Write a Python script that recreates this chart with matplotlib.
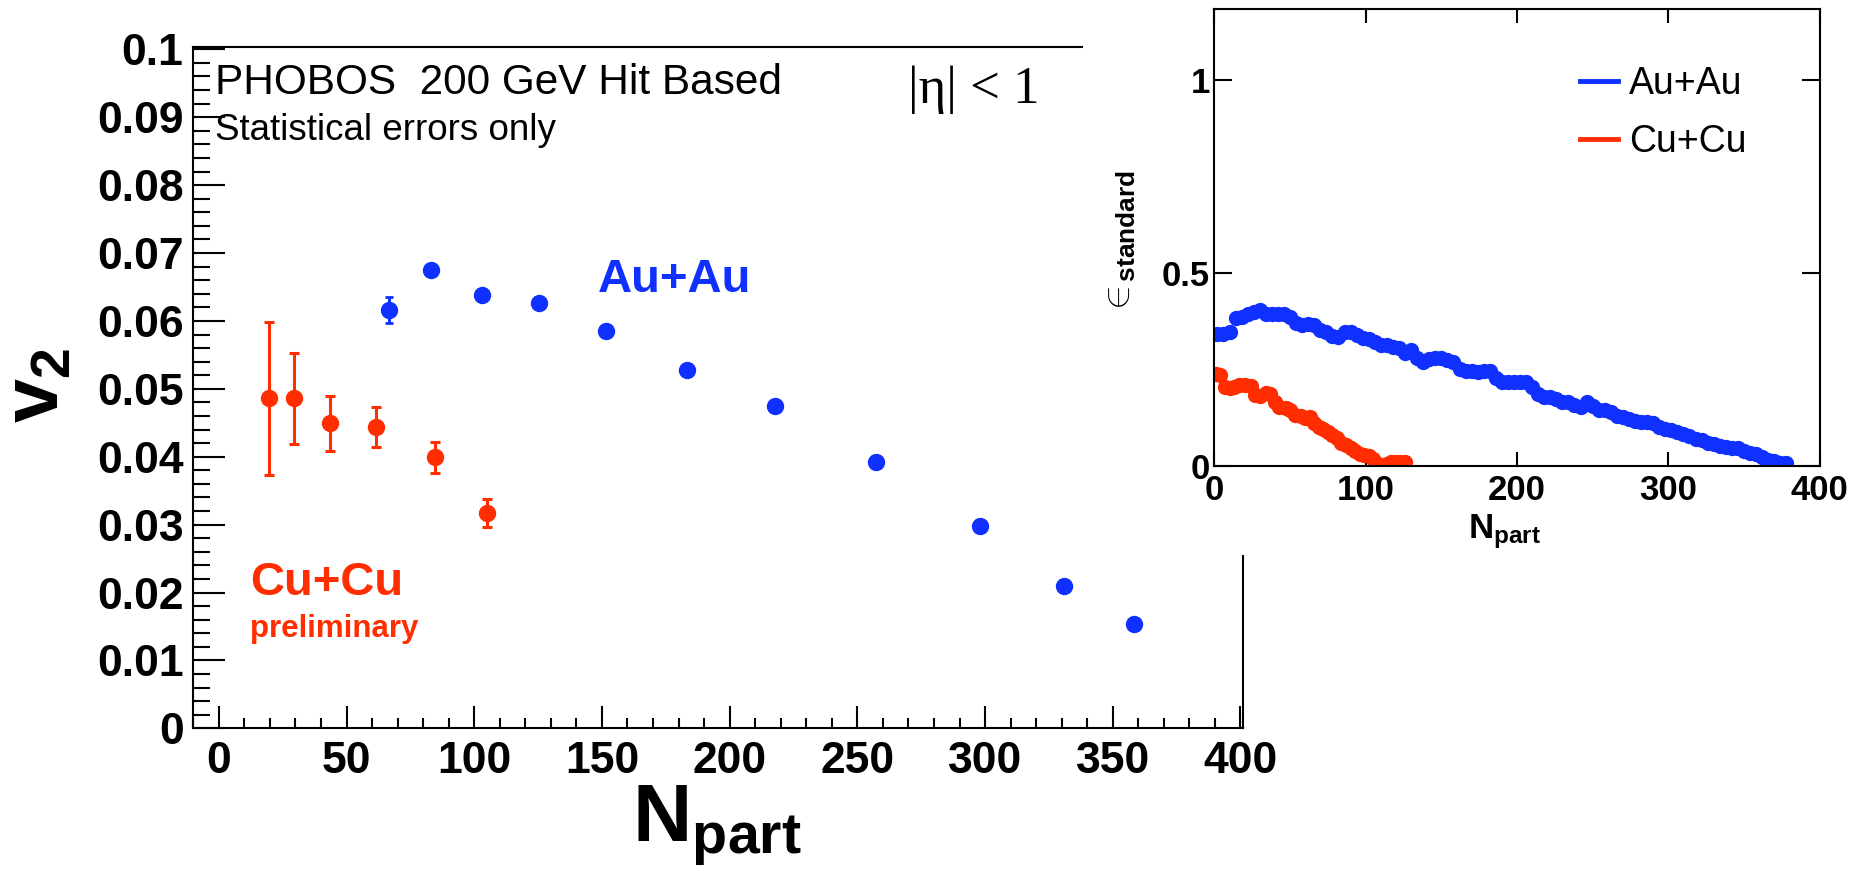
import matplotlib
matplotlib.use('Agg')
import matplotlib.pyplot as plt
from matplotlib.patches import Rectangle
from matplotlib.lines import Line2D
from matplotlib.ticker import MultipleLocator, FuncFormatter

plt.rcParams['font.family'] = ['Liberation Sans', 'DejaVu Sans']
plt.rcParams['font.weight'] = 'bold'
plt.rcParams['mathtext.fontset'] = 'custom'
plt.rcParams['mathtext.rm'] = 'Liberation Sans'
plt.rcParams['mathtext.bf'] = 'Liberation Sans:bold'
plt.rcParams['mathtext.it'] = 'Liberation Sans:italic'

BLUE = '#1030ff'
RED = '#ff2d00'

# main panel: v2 vs Npart
au_npart = [66.8, 83.2, 103.0, 125.2, 151.5, 183.2, 217.7, 257.5, 297.9, 331.1, 358.3]
au_v2 = [0.0616, 0.0675, 0.0638, 0.0627, 0.0585, 0.0528, 0.0475, 0.0392, 0.0298, 0.0209, 0.0153]
au_err = [0.0019, 0.0008, 0.0007, 0.0007, 0.0007, 0.0007, 0.0007, 0.0007, 0.0007, 0.0007, 0.0007]

cu_npart = [19.8, 29.3, 43.7, 61.7, 84.5, 105.0]
cu_v2 = [0.0486, 0.0486, 0.0449, 0.0444, 0.0399, 0.0317]
cu_err = [0.0113, 0.0067, 0.0040, 0.0029, 0.0023, 0.0020]

# inset: eccentricity vs Npart
au_ecc_npart = [2, 6, 10, 14, 18, 22, 26, 30, 34, 38, 42, 46, 50, 54, 58, 62, 66, 70,
                74, 78, 82, 86, 90, 94, 98, 102, 106, 110, 114, 118, 122, 126, 130,
                134, 138, 142, 146, 150, 154, 158, 162, 166, 170, 174, 178, 182, 186,
                190, 194, 198, 202, 206, 210, 214, 218, 222, 226, 230, 234, 238, 242,
                246, 250, 254, 258, 262, 266, 270, 274, 278, 282, 286, 290, 294, 298,
                302, 306, 310, 314, 318, 322, 326, 330, 334, 338, 342, 346, 350, 354,
                358, 362, 366, 370, 374, 378]
au_ecc = [0.341, 0.342, 0.345, 0.382, 0.385, 0.392, 0.398, 0.402, 0.392, 0.393,
          0.394, 0.392, 0.385, 0.369, 0.364, 0.366, 0.364, 0.352, 0.345, 0.336,
          0.334, 0.346, 0.347, 0.338, 0.332, 0.328, 0.320, 0.313, 0.312, 0.308,
          0.304, 0.292, 0.300, 0.280, 0.268, 0.276, 0.279, 0.278, 0.274, 0.268,
          0.250, 0.246, 0.244, 0.243, 0.244, 0.244, 0.226, 0.218, 0.218, 0.217,
          0.218, 0.216, 0.204, 0.185, 0.179, 0.178, 0.172, 0.166, 0.165, 0.158,
          0.153, 0.165, 0.155, 0.145, 0.144, 0.138, 0.130, 0.126, 0.120, 0.116,
          0.114, 0.113, 0.110, 0.100, 0.095, 0.092, 0.088, 0.083, 0.076, 0.070,
          0.066, 0.060, 0.055, 0.051, 0.048, 0.047, 0.045, 0.038, 0.033, 0.030,
          0.022, 0.016, 0.012, 0.008, 0.006]

cu_ecc_npart = [1, 4, 7, 10, 13, 16, 20, 24, 27, 30, 34, 37, 40, 43, 47, 50, 53, 57,
                60, 63, 66, 69, 72, 75, 78, 81, 84, 87, 90, 93, 96, 99, 102, 105,
                108, 111, 114, 117, 120, 123, 126]
cu_ecc = [0.237, 0.236, 0.205, 0.200, 0.205, 0.209, 0.208, 0.207, 0.182, 0.180,
          0.187, 0.186, 0.165, 0.153, 0.150, 0.145, 0.132, 0.128, 0.123, 0.125,
          0.110, 0.100, 0.095, 0.088, 0.080, 0.072, 0.060, 0.053, 0.047, 0.038,
          0.030, 0.027, 0.026, 0.018, 0.005, 0.002, 0.004, 0.009, 0.010, 0.010,
          0.010]

W, H = 1871, 881


def fx(px):
    return px / W


def fy(py):
    return 1 - py / H


fig = plt.figure(figsize=(W / 100, H / 100), dpi=100)

# ---- main panel ----
ax = fig.add_axes([fx(193.3), fy(728.3), (1243 - 193.3) / W, (728.3 - 47.3) / H])
ax.set_xlim(-10, 401)
ax.set_ylim(0, 0.1003)

ax.errorbar(cu_npart, cu_v2, yerr=cu_err, fmt='o', color=RED, ms=11.5,
            elinewidth=2.2, capsize=3.8, capthick=2.2)
ax.errorbar(au_npart, au_v2, yerr=au_err, fmt='o', color=BLUE, ms=11.5,
            elinewidth=2.2, capsize=3.0, capthick=2.0)

ax.xaxis.set_major_locator(MultipleLocator(50))
ax.xaxis.set_minor_locator(MultipleLocator(10))
ax.yaxis.set_major_locator(MultipleLocator(0.01))
ax.yaxis.set_minor_locator(MultipleLocator(0.002))
ax.yaxis.set_major_formatter(FuncFormatter(lambda v, _: f'{v:.2f}'.rstrip('0').rstrip('.')))

ax.tick_params(axis='x', which='major', direction='in', length=16, width=1.5, pad=9, labelsize=32)
ax.tick_params(axis='x', which='minor', direction='in', length=7, width=1.5)
ax.tick_params(axis='y', which='major', direction='in', length=23, width=1.5, pad=7, labelsize=32)
ax.tick_params(axis='y', which='minor', direction='in', length=12, width=1.5)
for s in ax.spines.values():
    s.set_linewidth(1.5)

fig.text(fx(215), fy(94), 'PHOBOS  200 GeV Hit Based', fontsize=30.5,
         fontweight='normal', va='baseline')
fig.text(fx(215), fy(140), 'Statistical errors only', fontsize=26.5,
         fontweight='normal', va='baseline')
fig.text(fx(908), fy(103), '|η| < 1', fontsize=38, family='Liberation Serif',
         fontweight='normal', va='baseline')
fig.text(fx(598), fy(292), 'Au+Au', fontsize=34, color=BLUE, va='baseline')
fig.text(fx(250), fy(595), 'Cu+Cu', fontsize=34, color=RED, va='baseline')
fig.text(fx(250), fy(637), 'preliminary', fontsize=22.5, color=RED, va='baseline')

fig.text(fx(632), fy(842), r'$\mathbf{N}_{\mathbf{part}}$', fontsize=59,
         ha='left', va='baseline')
fig.text(fx(58), fy(423), r'$\mathbf{v}_{\mathbf{2}}$', fontsize=57, rotation=90,
         rotation_mode='anchor', ha='left', va='baseline')

# white block under the inset, hiding the main frame corner
fig.add_artist(Rectangle((fx(1083), fy(555)), 1 - fx(1083), 1 - fy(555),
                         transform=fig.transFigure, facecolor='white',
                         edgecolor='none', zorder=1))

# ---- inset ----
ax2 = fig.add_axes([fx(1214.4), fy(465.7), 605.2 / W, 456.4 / H], zorder=2)
ax2.set_xlim(0, 400)
ax2.set_ylim(0, 1.182)
ax2.plot(au_ecc_npart, au_ecc, 'o', ms=10, color=BLUE)
ax2.plot(cu_ecc_npart, cu_ecc, 'o', ms=10, color=RED)

ax2.set_xticks([0, 100, 200, 300, 400])
ax2.set_yticks([0, 0.5, 1])
ax2.yaxis.set_major_formatter(FuncFormatter(lambda v, _: f'{v:g}'))
ax2.tick_params(axis='x', direction='in', length=10, width=1.5, top=True, pad=6, labelsize=25)
ax2.tick_params(axis='y', direction='in', length=13, width=1.5, right=True, pad=3, labelsize=25)
for s in ax2.spines.values():
    s.set_linewidth(1.5)

handles = [Line2D([], [], color=BLUE, lw=3.5), Line2D([], [], color=RED, lw=3.5)]
ax2.legend(handles, ['Au+Au', 'Cu+Cu'], loc='upper left',
           bbox_to_anchor=(fx(1580), fy(66)), bbox_transform=fig.transFigure,
           frameon=False, borderpad=0, borderaxespad=0, handlelength=1.0,
           handletextpad=0.3, labelspacing=0.6,
           prop={'size': 27, 'weight': 'normal'})

fig.text(fx(1468), fy(538), r'$\mathbf{N}_{\mathbf{part}}$', fontsize=25,
         ha='left', va='baseline')
fig.text(fx(1130), fy(316), r'$\in_{\!\mathbf{standard}}$', fontsize=27, rotation=90,
         rotation_mode='anchor', ha='left', va='baseline')

fig.savefig('out.png', dpi=100)
